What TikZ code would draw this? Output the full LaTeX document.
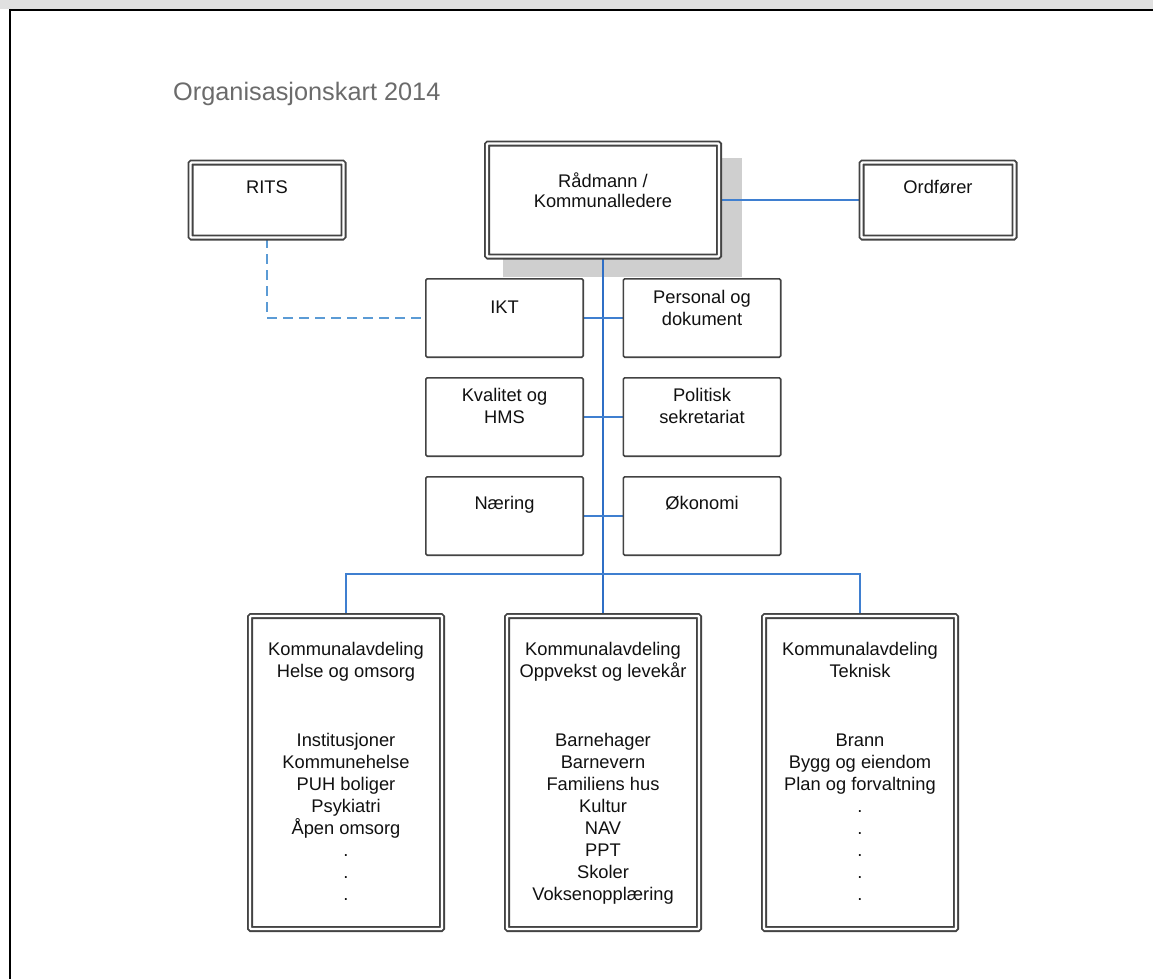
\documentclass[tikz,border=0pt]{standalone}
\usepackage{fontspec}
\setmainfont{Liberation Sans}
\usetikzlibrary{backgrounds}
\definecolor{boxline}{HTML}{434343}
\definecolor{spineblue}{HTML}{2F6FC6}
\definecolor{lineblue}{HTML}{3F7FD0}
\definecolor{dashblue}{HTML}{5B9BD5}
\definecolor{shadowgray}{HTML}{CFCFCF}
\definecolor{titlegray}{HTML}{6B6B6B}
\definecolor{bargray}{HTML}{E0E0E0}
\definecolor{textblack}{HTML}{111111}
\begin{document}
\begin{tikzpicture}[x=1pt,y=-1pt,
  dbox/.style={draw=boxline, line width=1.9pt, double=white, double distance=2.2pt,
    fill=white, rounded corners=1pt, inner sep=0pt},
  topbox/.style={dbox, minimum width=153pt, minimum height=75pt},
  deptbox/.style={dbox, minimum width=192pt, minimum height=313pt},
  sbox/.style={draw=boxline, line width=1.6pt, fill=white, rounded corners=1.5pt,
    inner sep=0pt, minimum width=157.4pt, minimum height=78.4pt},
  txt/.style={inner sep=0pt, align=center, text=textblack,
    font=\fontsize{18.3}{22}\selectfont},
  ntxt/.style={txt, anchor=north},
  conn/.style={draw=lineblue, line width=2pt},
  spineln/.style={draw=spineblue, line width=2pt},
  dashln/.style={draw=dashblue, line width=2pt, dash pattern=on 10pt off 6pt}
]
\useasboundingbox (0,0) rectangle (1153,979);
% frame
\fill[bargray] (0,0) rectangle (1153,9);
\draw[black, line width=2pt] (9,10) -- (1153,10);
\draw[black, line width=2pt] (10,9) -- (10,979);

% title
\node[anchor=base west, inner sep=0pt, text=titlegray,
  font=\fontsize{25.3}{30}\selectfont] (title) at (173,101) {Organisasjonskart 2014};

% top row
\node[topbox] (rits) at (267,200) {};
\node[txt] (ritst) at (267,187) {RITS};
\node[dbox, minimum width=232pt, minimum height=113pt] (radmann) at (603,200) {};
\node[ntxt] (radmannt) at (603,172.5) {Rådmann /\\[-1.5pt]Kommunalledere};
\node[topbox] (ordforer) at (938,200) {};
\node[txt] (ordforert) at (938,187) {Ordfører};

% staff boxes
\node[sbox] (ikt) at (504.5,318) {};
\node[ntxt] (iktt) at (504.5,300.5) {IKT};
\node[sbox] (personal) at (702,318) {};
\node[ntxt] (personalt) at (702,290.5) {Personal og\\[-0.5pt]dokument};
\node[sbox] (kvalitet) at (504.5,417) {};
\node[ntxt] (kvalitett) at (504.5,388.5) {Kvalitet og\\[-0.5pt]HMS};
\node[sbox] (politisk) at (702,417) {};
\node[ntxt] (politiskt) at (702,388.5) {Politisk\\[-0.5pt]sekretariat};
\node[sbox] (naering) at (504.5,516) {};
\node[ntxt] (naeringt) at (504.5,496.5) {Næring};
\node[sbox] (okonomi) at (702,516) {};
\node[ntxt] (okonomit) at (702,496.5) {Økonomi};

% departments
\node[deptbox] (helse) at (346,772.5) {};
\node[ntxt] (helseh) at (346,642.5) {Kommunalavdeling\\Helse og omsorg};
\node[ntxt] (helsei) at (346,733.5) {Institusjoner\\Kommunehelse\\PUH boliger\\Psykiatri\\Åpen omsorg\\.\\.\\.};
\node[deptbox] (oppvekst) at (603,772.5) {};
\node[ntxt] (oppveksth) at (603,642.5) {Kommunalavdeling\\Oppvekst og levekår};
\node[ntxt] (oppveksti) at (603,733.5) {Barnehager\\Barnevern\\Familiens hus\\Kultur\\NAV\\PPT\\Skoler\\Voksenopplæring};
\node[deptbox] (teknisk) at (860,772.5) {};
\node[ntxt] (tekniskh) at (860,642.5) {Kommunalavdeling\\Teknisk};
\node[ntxt] (tekniski) at (860,733.5) {Brann\\Bygg og eiendom\\Plan og forvaltning\\.\\.\\.\\.\\.};

\coordinate (bus) at (603,574);
\begin{scope}[on background layer]
  \fill[shadowgray] (503,158) rectangle (742,277);
  \draw[dashln] (rits.south) |- (ikt.west);
  \draw[conn] (radmann.east) -- (ordforer.west);
  \draw[spineln] (radmann.south) -- (oppvekst.north);
  \draw[conn] (ikt.east) -- (personal.west);
  \draw[conn] (kvalitet.east) -- (politisk.west);
  \draw[conn] (naering.east) -- (okonomi.west);
  \draw[conn] (helse.north) |- (bus) -| (teknisk.north);
\end{scope}
\end{tikzpicture}
\end{document}
